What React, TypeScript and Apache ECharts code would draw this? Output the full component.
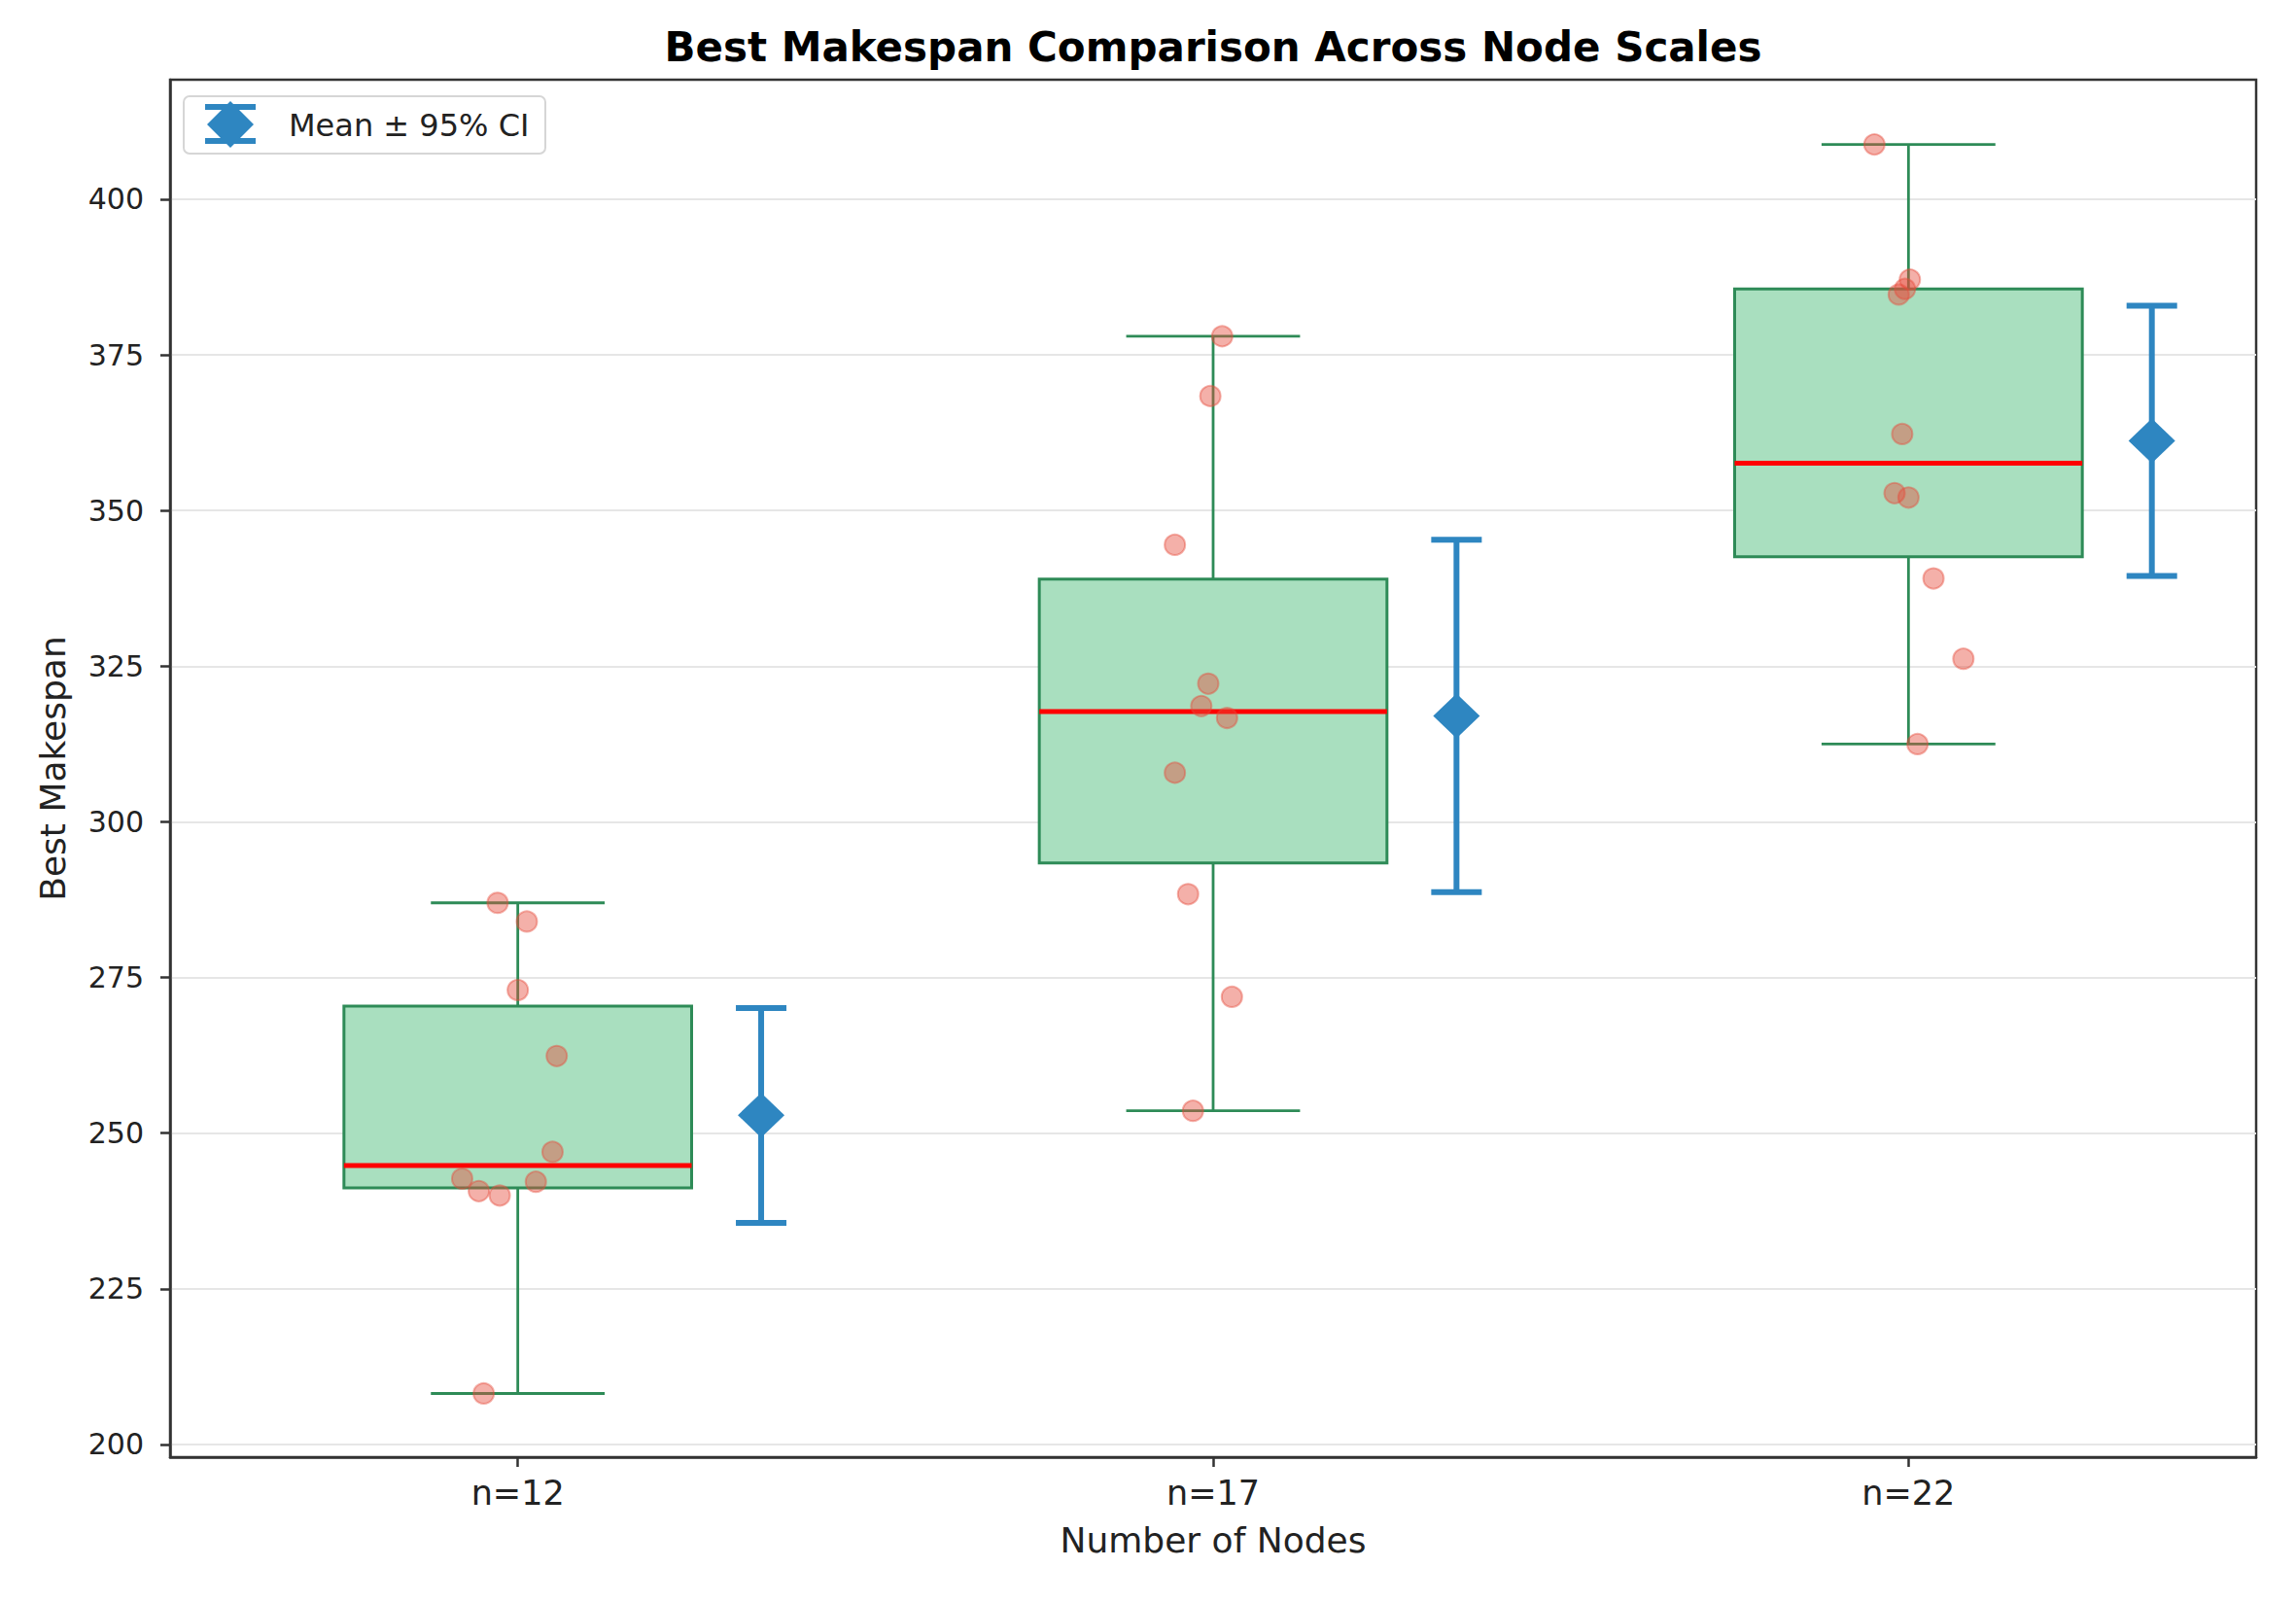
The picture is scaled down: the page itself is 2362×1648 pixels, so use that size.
import React, { useEffect, useRef } from 'react';
import * as echarts from 'echarts';

// ---- data ----
const categories = ['n=12', 'n=17', 'n=22'];
const yTicks = [200, 225, 250, 275, 300, 325, 350, 375, 400];

const whiskerLow = [208.2, 253.6, 312.5];
const q1 = [241.2, 293.4, 342.6];
const medians = [244.8, 317.7, 357.6];
const q3 = [270.4, 339.0, 385.6];
const whiskerHigh = [287.0, 378.0, 408.8];

const means = [252.9, 317.0, 361.2];
const ciLow = [235.6, 288.7, 339.5];
const ciHigh = [270.1, 345.3, 382.9];

const points12 = [287.0, 284.0, 273.0, 262.4, 247.0, 242.7, 242.2, 240.7, 240.0, 208.2];
const jitter12 = [-0.029, 0.013, 0.0, 0.056, 0.05, -0.08, 0.026, -0.056, -0.026, -0.049];
const points17 = [378.0, 368.4, 344.5, 322.2, 318.6, 316.7, 307.9, 288.4, 271.9, 253.6];
const jitter17 = [0.013, -0.004, -0.055, -0.007, -0.017, 0.02, -0.055, -0.036, 0.027, -0.029];
const points22 = [408.8, 387.1, 385.6, 384.7, 362.3, 352.8, 352.1, 339.1, 326.2, 312.5];
const jitter22 = [-0.049, 0.002, -0.005, -0.014, -0.009, -0.02, 0.0, 0.036, 0.079, 0.013];

const legendLabel = 'Mean ± 95% CI';
const titleText = 'Best Makespan Comparison Across Node Scales';
const xName = 'Number of Nodes';
const yName = 'Best Makespan';

// ---- layout / style constants ----
const W = 2362;
const H = 1648;
const GRID = { left: 175, right: 41, top: 82, bottom: 149 };
const BOX_HALF = 0.25;
const CAP_HALF = 0.125;
const MEAN_OFFSET = 0.35;
const FONT = 'DejaVu Sans, Liberation Sans, sans-serif';
const GREEN_EDGE = '#2e8b57';
const GREEN_FILL = '#a9dfbf';
const BLUE = '#2e86c1';

export default function App() {
  const ref = useRef<HTMLDivElement>(null);

  useEffect(() => {
    if (!ref.current) return;
    const chart = echarts.init(ref.current, null, { renderer: 'svg', width: W, height: H });

    const boxData = categories.map((_, i) => [i, whiskerLow[i], q1[i], medians[i], q3[i], whiskerHigh[i]]);
    const meanData = categories.map((_, i) => [i + MEAN_OFFSET, means[i], ciLow[i], ciHigh[i]]);
    const allPoints = [points12, points17, points22];
    const allJitter = [jitter12, jitter17, jitter22];
    const scatterData: number[][] = [];
    allPoints.forEach((arr, i) => arr.forEach((v, j) => scatterData.push([i + allJitter[i][j], v])));

    const plotCx = GRID.left + (W - GRID.left - GRID.right) / 2;

    const option: any = {
      animation: false,
      backgroundColor: '#ffffff',
      textStyle: { fontFamily: FONT },
      grid: {
        left: GRID.left,
        right: GRID.right,
        top: GRID.top,
        bottom: GRID.bottom,
        show: true,
        borderColor: '#333333',
        borderWidth: 2.5,
        backgroundColor: 'transparent',
      },
      xAxis: [
        {
          type: 'category',
          data: categories,
          boundaryGap: true,
          position: 'bottom',
          axisLine: { show: true, onZero: false, lineStyle: { color: '#333333', width: 2.5 } },
          axisTick: { show: true, alignWithLabel: true, length: 10, lineStyle: { color: '#333333', width: 2.5 } },
          axisLabel: { fontSize: 35, color: '#222222', margin: 19, fontFamily: FONT },
          splitLine: { show: false },
          name: xName,
          nameLocation: 'middle',
          nameGap: 67,
          nameTextStyle: { fontSize: 36, color: '#222222', fontFamily: FONT },
        },
        {
          type: 'value',
          min: -0.5,
          max: 2.5,
          show: false,
          axisLine: { onZero: false },
        },
      ],
      yAxis: {
        type: 'value',
        min: 197.97,
        max: 419.2,
        position: 'left',
        axisLine: { show: true, onZero: false, lineStyle: { color: '#333333', width: 2.5 } },
        axisTick: { show: true, length: 10, customValues: yTicks, lineStyle: { color: '#333333', width: 2.5 } },
        axisLabel: { fontSize: 30, color: '#222222', margin: 27, customValues: yTicks, fontFamily: FONT },
        splitLine: { show: true, lineStyle: { color: '#e6e6e6', width: 2 } },
        name: yName,
        nameLocation: 'middle',
        nameGap: 103,
        nameRotate: 90,
        nameTextStyle: { fontSize: 36, color: '#222222', fontFamily: FONT },
      },
      series: [
        {
          type: 'custom',
          name: 'box',
          xAxisIndex: 1,
          yAxisIndex: 0,
          data: boxData,
          encode: { x: 0, y: [1, 2, 3, 4, 5] },
          z: 2,
          renderItem: (params: any, api: any) => {
            const x = api.value(0);
            const lo = api.value(1);
            const a = api.value(2);
            const m = api.value(3);
            const b = api.value(4);
            const hi = api.value(5);
            const pLo = api.coord([x, lo]);
            const pA = api.coord([x, a]);
            const pB = api.coord([x, b]);
            const pHi = api.coord([x, hi]);
            const capL = api.coord([x - CAP_HALF, lo])[0];
            const capR = api.coord([x + CAP_HALF, lo])[0];
            const boxL = api.coord([x - BOX_HALF, a])[0];
            const boxR = api.coord([x + BOX_HALF, a])[0];
            const pM = api.coord([x, m]);
            const lineStyle = { stroke: GREEN_EDGE, lineWidth: 2.8 };
            return {
              type: 'group',
              children: [
                { type: 'line', shape: { x1: pLo[0], y1: pLo[1], x2: pA[0], y2: pA[1] }, style: lineStyle },
                { type: 'line', shape: { x1: pB[0], y1: pB[1], x2: pHi[0], y2: pHi[1] }, style: lineStyle },
                { type: 'line', shape: { x1: capL, y1: pLo[1], x2: capR, y2: pLo[1] }, style: lineStyle },
                { type: 'line', shape: { x1: capL, y1: pHi[1], x2: capR, y2: pHi[1] }, style: lineStyle },
                {
                  type: 'rect',
                  shape: { x: boxL, y: pB[1], width: boxR - boxL, height: pA[1] - pB[1] },
                  style: { fill: GREEN_FILL, stroke: GREEN_EDGE, lineWidth: 3 },
                },
                { type: 'line', shape: { x1: boxL, y1: pM[1], x2: boxR, y2: pM[1] }, style: { stroke: '#ff0000', lineWidth: 5 } },
              ],
            };
          },
        },
        {
          type: 'scatter',
          name: 'points',
          xAxisIndex: 1,
          yAxisIndex: 0,
          data: scatterData,
          symbol: 'circle',
          symbolSize: 21,
          clip: false,
          z: 3,
          itemStyle: {
            color: 'rgba(231,76,60,0.55)',
            borderColor: 'rgba(231,76,60,0.55)',
            borderWidth: 2,
          },
        },
        {
          type: 'custom',
          name: legendLabel,
          xAxisIndex: 1,
          yAxisIndex: 0,
          data: meanData,
          encode: { x: 0, y: [1, 2, 3] },
          z: 4,
          renderItem: (params: any, api: any) => {
            const x = api.value(0);
            const mv = api.value(1);
            const lo = api.value(2);
            const hi = api.value(3);
            const pM = api.coord([x, mv]);
            const pLo = api.coord([x, lo]);
            const pHi = api.coord([x, hi]);
            const cap = 26;
            const dw = 24;
            const dh = 23;
            const st = { stroke: BLUE, lineWidth: 6 };
            return {
              type: 'group',
              children: [
                { type: 'line', shape: { x1: pLo[0], y1: pLo[1], x2: pHi[0], y2: pHi[1] }, style: st },
                { type: 'line', shape: { x1: pLo[0] - cap, y1: pLo[1], x2: pLo[0] + cap, y2: pLo[1] }, style: st },
                { type: 'line', shape: { x1: pHi[0] - cap, y1: pHi[1], x2: pHi[0] + cap, y2: pHi[1] }, style: st },
                {
                  type: 'polygon',
                  shape: { points: [[pM[0], pM[1] - dh], [pM[0] + dw, pM[1]], [pM[0], pM[1] + dh], [pM[0] - dw, pM[1]]] },
                  style: { fill: BLUE },
                },
              ],
            };
          },
        },
      ],
      graphic: [
        {
          type: 'text',
          x: plotCx,
          y: 48,
          style: {
            text: titleText,
            fontFamily: FONT,
            fontSize: 42,
            fontWeight: 'bold',
            fill: '#000000',
            textAlign: 'center',
            textVerticalAlign: 'middle',
          },
          z: 10,
        },
        {
          type: 'group',
          z: 10,
          children: [
            {
              type: 'rect',
              shape: { x: 189, y: 99, width: 372, height: 59, r: 6 },
              style: { fill: 'rgba(255,255,255,0.85)', stroke: '#d6d6d6', lineWidth: 2 },
            },
            { type: 'line', shape: { x1: 237, y1: 110, x2: 237, y2: 145 }, style: { stroke: BLUE, lineWidth: 6 } },
            { type: 'line', shape: { x1: 211, y1: 110, x2: 263, y2: 110 }, style: { stroke: BLUE, lineWidth: 6 } },
            { type: 'line', shape: { x1: 211, y1: 145, x2: 263, y2: 145 }, style: { stroke: BLUE, lineWidth: 6 } },
            {
              type: 'polygon',
              shape: { points: [[237, 104], [261, 128], [237, 152], [213, 128]] },
              style: { fill: BLUE },
            },
            {
              type: 'text',
              x: 297,
              y: 129,
              style: {
                text: legendLabel,
                fontFamily: FONT,
                fontSize: 32,
                fill: '#222222',
                textAlign: 'left',
                textVerticalAlign: 'middle',
              },
            },
          ],
        },
      ],
    };

    chart.setOption(option);
    return () => chart.dispose();
  }, []);

  return (
    <div
      ref={ref}
      style={{ position: 'absolute', left: 0, top: 0, width: W, height: H, background: '#ffffff' }}
    />
  );
}
